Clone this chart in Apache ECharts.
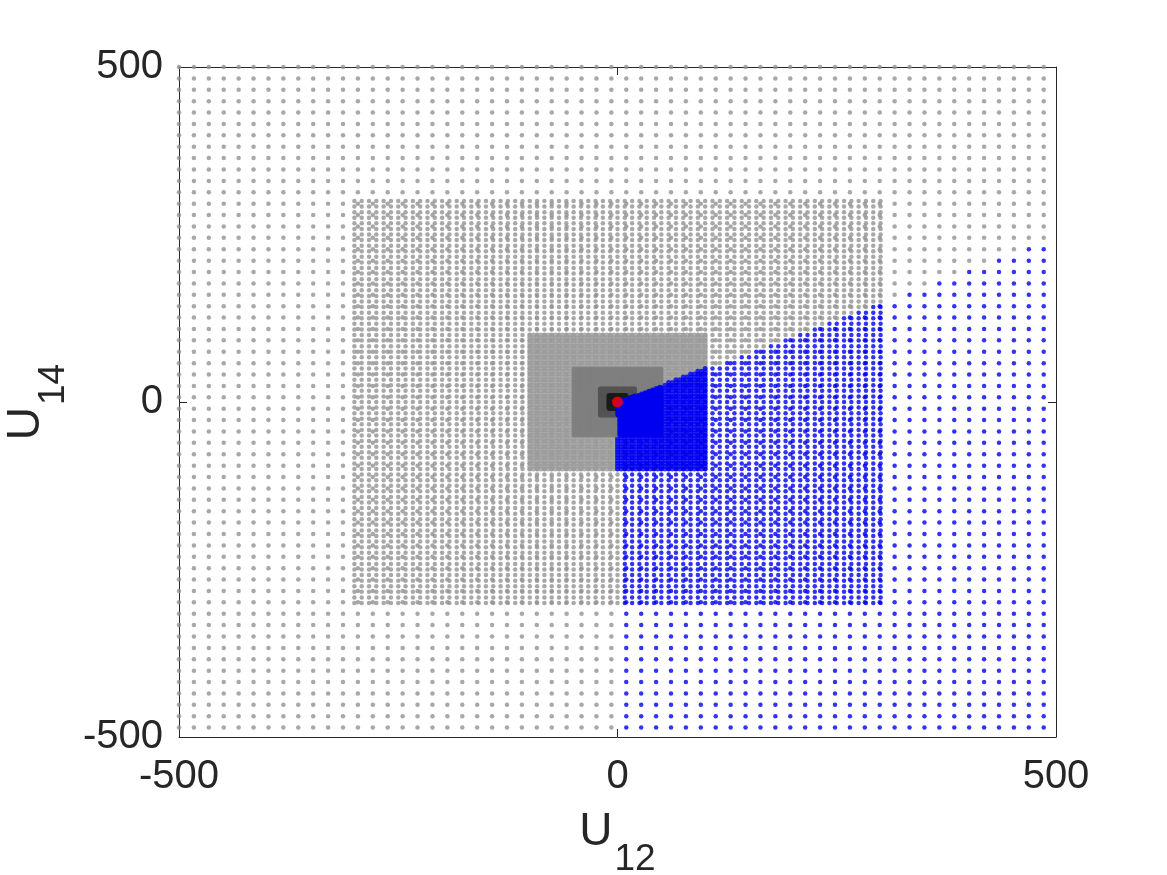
<!DOCTYPE html>
<html>
<head>
<meta charset="utf-8">
<title>U12 / U14</title>
<script src="https://cdn.jsdelivr.net/npm/echarts@6/dist/echarts.min.js"></script>
<style>
  html, body { margin: 0; padding: 0; background: #fff; }
  #chart { width: 1167px; height: 875px; }
</style>
</head>
<body>
<div id="chart"></div>
<script>
// axis ticks
const xTicks = [-500, 0, 500];
const yTicks = [-500, 0, 500];

// sampling levels, coarse to fine: top-left corner, step, points per side
const levelX0 = [-500, -300, -100, -50, -20, -10];
const levelY0 = [500, 300, 100, 50, 20, 10];
const levelStep = [17, 8.333, 4.167, 2.083, 1, 0.5];
const levelCount = [59, 73, 49, 49, 41, 41];

// blue points: x >= 0 and y <= blueSlope * x
const blueSlope = 0.5;

// reference point
const origin = [[0, 0]];

const levelColors = ["#929292", "#929292", "#9c9c9c", "#808080", "#555555", "#1f1f1f"];
const levelSymbol = [4.5, 4.5, 5, 4, 4, 4];
const axisColor = "#262626";
const fontFamily = "'Liberation Sans', Arial, Helvetica, sans-serif";

const series = [];
levelX0.forEach((x0, i) => {
  const gray = [];
  const blue = [];
  for (let r = 0; r < levelCount[i]; r++) {
    for (let c = 0; c < levelCount[i]; c++) {
      const x = x0 + c * levelStep[i];
      const y = levelY0[i] - r * levelStep[i];
      if (x >= -1e-6 && y <= blueSlope * x + 1e-6) {
        blue.push([x, y]);
      } else {
        gray.push([x, y]);
      }
    }
  }
  series.push({
    type: "scatter",
    data: gray,
    symbol: "circle",
    symbolSize: levelSymbol[i],
    silent: true,
    itemStyle: { color: levelColors[i] },
  });
  series.push({
    type: "scatter",
    data: blue,
    symbol: "circle",
    symbolSize: levelSymbol[i],
    silent: true,
    itemStyle: { color: "#0000f0" },
  });
});
series.push({
  type: "scatter",
  data: origin,
  symbol: "circle",
  symbolSize: 11,
  silent: true,
  itemStyle: { color: "#ff0000" },
  z: 5,
});

const nameRich = {
  u: { fontSize: 46, lineHeight: 50, verticalAlign: "top", color: axisColor, fontFamily },
  s: { fontSize: 37, lineHeight: 37, padding: [32, 0, 0, 2], verticalAlign: "top", color: axisColor, fontFamily },
};

function mainAxis(ticks, pos) {
  return {
    type: "value",
    position: pos,
    min: ticks[0],
    max: ticks[ticks.length - 1],
    interval: ticks[1] - ticks[0],
    splitLine: { show: false },
    axisLine: { show: true, onZero: false, lineStyle: { color: axisColor, width: 1 } },
    axisTick: { show: true, inside: true, length: 8, lineStyle: { color: axisColor } },
    axisLabel: {
      show: pos === "bottom" || pos === "left",
      fontSize: 40,
      color: axisColor,
      fontFamily,
      margin: pos === "bottom" ? 20 : 16,
      formatter: (v) => (ticks.indexOf(v) >= 0 ? String(v) : ""),
    },
  };
}

const chart = echarts.init(document.getElementById("chart"));
chart.setOption({
  animation: false,
  backgroundColor: "#ffffff",
  grid: { left: 179, right: 111, top: 67, bottom: 138, containLabel: false, outerBoundsMode: "none" },
  xAxis: [
    Object.assign(mainAxis(xTicks, "bottom"), {
      name: "{u|U}{s|12}",
      nameLocation: "middle",
      nameGap: 72,
      nameTextStyle: { rich: nameRich },
    }),
    mainAxis(xTicks, "top"),
  ],
  yAxis: [
    Object.assign(mainAxis(yTicks, "left"), {
      name: "{u|U}{s|14}",
      nameLocation: "middle",
      nameGap: 107,
      nameTextStyle: { rich: nameRich },
    }),
    mainAxis(yTicks, "right"),
  ],
  series: series,
});
</script>
</body>
</html>
